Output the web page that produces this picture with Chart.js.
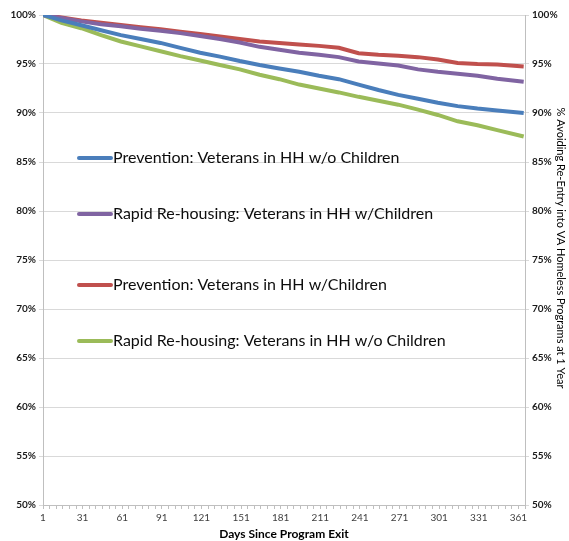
<!DOCTYPE html>
<html>
<head>
<meta charset="utf-8">
<script src="https://cdn.jsdelivr.net/npm/chart.js@4"></script>
<style>
  html, body { margin: 0; padding: 0; background: #ffffff; }
  canvas { display: block; }
</style>
</head>
<body>
<canvas id="chart" width="569" height="541"></canvas>
<script>
// Days since program exit at which survival values were recorded
const days = [1, 15, 30, 45, 60, 75, 90, 105, 120, 135, 150, 165, 180, 195, 210, 225, 240, 255, 270, 285, 300, 315, 330, 345, 365];

// Share (%) of veterans still avoiding re-entry on each day
const preventionNoChildren = [100, 99.45, 98.95, 98.45, 97.95, 97.55, 97.15, 96.65, 96.15, 95.75, 95.3, 94.9, 94.55, 94.2, 93.8, 93.45, 92.9, 92.35, 91.85, 91.45, 91.05, 90.7, 90.45, 90.25, 90.0];
const rapidWithChildren = [100, 99.7, 99.35, 99.05, 98.85, 98.6, 98.4, 98.15, 97.85, 97.55, 97.2, 96.75, 96.45, 96.15, 95.95, 95.7, 95.25, 95.05, 94.85, 94.45, 94.2, 94.0, 93.8, 93.5, 93.2];
const preventionWithChildren = [100, 99.75, 99.45, 99.2, 98.98, 98.75, 98.55, 98.3, 98.06, 97.8, 97.55, 97.3, 97.15, 97.0, 96.85, 96.65, 96.1, 95.95, 95.85, 95.7, 95.45, 95.1, 95.0, 94.95, 94.75];
const rapidNoChildren = [100, 99.2, 98.65, 97.95, 97.3, 96.8, 96.3, 95.8, 95.35, 94.9, 94.45, 93.9, 93.45, 92.9, 92.5, 92.1, 91.65, 91.25, 90.85, 90.35, 89.8, 89.15, 88.75, 88.25, 87.6];

const seriesLabels = [
  'Prevention: Veterans in HH w/o Children',
  'Rapid Re-housing: Veterans in HH w/Children',
  'Prevention: Veterans in HH w/Children',
  'Rapid Re-housing: Veterans in HH w/o Children'
];
const seriesValues = [preventionNoChildren, rapidWithChildren, preventionWithChildren, rapidNoChildren];
const seriesColors = ['#4A7EBB', '#8064A2', '#C0504D', '#9BBB59'];

// Axis settings
const yTickValues = [50, 55, 60, 65, 70, 75, 80, 85, 90, 95, 100];
const xLabelDays = [1, 31, 61, 91, 121, 151, 181, 211, 241, 271, 301, 331, 361];
const xTitle = 'Days Since Program Exit';
const yTitle = '% Avoiding Re-Entry into VA Homeless Programs at 1 Year';

const FONT = 'Lato, "Open Sans", "Liberation Sans", sans-serif';

const datasets = seriesLabels.map((label, i) => ({
  label,
  data: days.map((d, j) => ({ x: d, y: seriesValues[i][j] })),
  borderColor: seriesColors[i],
  backgroundColor: seriesColors[i],
  borderWidth: 4,
  pointRadius: 0,
  tension: 0,
  fill: false
}));

// Legend placed inside the plot, one entry per row
const insideLegend = {
  id: 'insideLegend',
  afterDraw(chart) {
    const ctx = chart.ctx;
    const rows = [158, 214, 285, 341];
    ctx.save();
    ctx.font = '16px ' + FONT;
    ctx.textBaseline = 'middle';
    chart.data.datasets.forEach((ds, i) => {
      const y = rows[i];
      ctx.strokeStyle = ds.borderColor;
      ctx.lineWidth = 4;
      ctx.lineCap = 'round';
      ctx.beginPath();
      ctx.moveTo(79, y);
      ctx.lineTo(111, y);
      ctx.stroke();
      ctx.fillStyle = '#0d0d0d';
      ctx.fillText(ds.label, 113, y);
    });
    ctx.restore();
  }
};

// Rotated title beside the right-hand axis
const rightTitle = {
  id: 'rightTitle',
  afterDraw(chart) {
    const ctx = chart.ctx;
    ctx.save();
    ctx.translate(561, 248);
    ctx.rotate(Math.PI / 2);
    ctx.font = '11px ' + FONT;
    ctx.fillStyle = '#000000';
    ctx.textAlign = 'center';
    ctx.textBaseline = 'middle';
    ctx.fillText(yTitle, 0, 0);
    ctx.restore();
  }
};

function percentAxis(position, onChart) {
  return {
    type: 'linear',
    position,
    min: 50,
    max: 100,
    afterBuildTicks: s => { s.ticks = yTickValues.map(v => ({ value: v })); },
    afterFit: s => { s.width = position === 'left' ? 43 : 44; },
    ticks: {
      callback: v => v + '%',
      font: { family: FONT, size: 10, weight: 'bold' },
      color: '#1a1a1a',
      padding: 3
    },
    grid: {
      drawOnChartArea: onChart,
      color: '#d9d9d9',
      lineWidth: 1,
      tickLength: 4
    },
    border: { color: '#bfbfbf' }
  };
}

new Chart(document.getElementById('chart'), {
  type: 'line',
  data: { datasets },
  plugins: [insideLegend, rightTitle],
  options: {
    responsive: false,
    animation: false,
    layout: { padding: { top: 15, left: 0, right: 0, bottom: 0 } },
    plugins: { legend: { display: false }, tooltip: { enabled: false } },
    scales: {
      x: {
        type: 'linear',
        min: 1,
        max: 366,
        afterBuildTicks: s => {
          const t = [];
          for (let v = 1; v <= 366; v += 5) t.push({ value: v });
          s.ticks = t;
        },
        afterFit: s => { s.height = 36; },
        ticks: {
          autoSkip: false,
          maxRotation: 0,
          callback: v => xLabelDays.includes(v) ? String(v) : '',
          font: { family: FONT, size: 10 },
          color: '#404040',
          padding: 3
        },
        grid: { drawOnChartArea: false, color: '#bfbfbf', tickLength: 4 },
        border: { color: '#bfbfbf' },
        title: {
          display: true,
          text: xTitle,
          font: { family: FONT, size: 12, weight: 'bold' },
          color: '#000000',
          padding: { top: 2, bottom: 0 }
        }
      },
      y: percentAxis('left', true),
      y2: percentAxis('right', false)
    }
  }
});
</script>
</body>
</html>
